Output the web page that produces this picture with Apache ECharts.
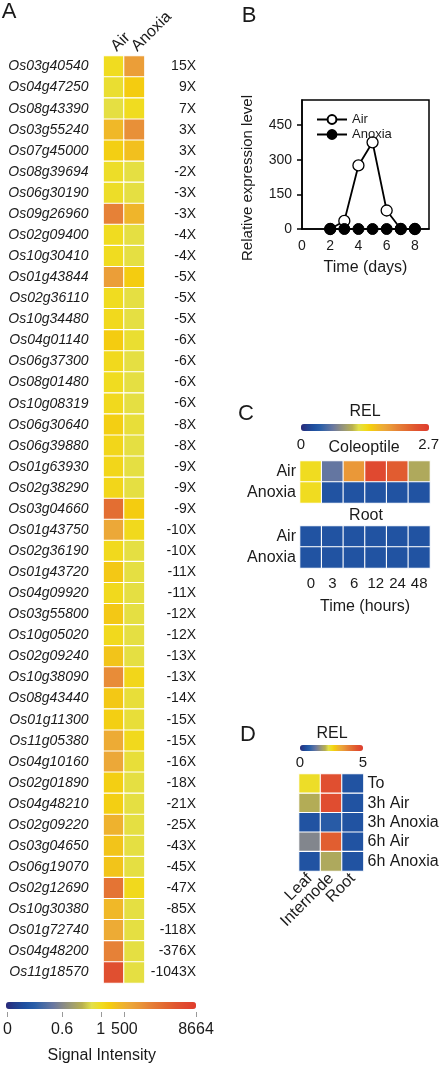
<!DOCTYPE html>
<html><head><meta charset="utf-8">
<script src="https://cdn.jsdelivr.net/npm/echarts@6/dist/echarts.min.js"></script>
<style>html,body{margin:0;padding:0;background:#fff}#c{width:442px;height:1066px}</style>
</head><body><div id="c"></div>
<script>
// ---------- Panel A ----------
const genes = ['Os03g40540','Os04g47250','Os08g43390','Os03g55240','Os07g45000','Os08g39694','Os06g30190','Os09g26960','Os02g09400','Os10g30410','Os01g43844','Os02g36110','Os10g34480','Os04g01140','Os06g37300','Os08g01480','Os10g08319','Os06g30640','Os06g39880','Os01g63930','Os02g38290','Os03g04660','Os01g43750','Os02g36190','Os01g43720','Os04g09920','Os03g55800','Os10g05020','Os02g09240','Os10g38090','Os08g43440','Os01g11300','Os11g05380','Os04g10160','Os02g01890','Os04g48210','Os02g09220','Os03g04650','Os06g19070','Os02g12690','Os10g30380','Os01g72740','Os04g48200','Os11g18570'];
const folds = ['15X','9X','7X','3X','3X','-2X','-3X','-3X','-4X','-4X','-5X','-5X','-5X','-6X','-6X','-6X','-6X','-8X','-8X','-9X','-9X','-9X','-10X','-10X','-11X','-11X','-12X','-12X','-13X','-13X','-14X','-15X','-15X','-16X','-18X','-21X','-25X','-43X','-45X','-47X','-85X','-118X','-376X','-1043X'];
// position on the Signal Intensity colour scale (0 = left end, 1 = right end)
const airLevel = [0.50,0.48,0.46,0.60,0.54,0.49,0.49,0.76,0.50,0.50,0.68,0.50,0.51,0.55,0.51,0.50,0.51,0.54,0.52,0.52,0.52,0.82,0.65,0.51,0.56,0.51,0.56,0.51,0.57,0.73,0.56,0.54,0.64,0.65,0.54,0.54,0.62,0.57,0.57,0.80,0.60,0.64,0.76,0.92];
const anoxiaLevel = [0.68,0.55,0.50,0.72,0.58,0.46,0.46,0.61,0.46,0.46,0.55,0.46,0.46,0.48,0.46,0.46,0.46,0.47,0.46,0.46,0.46,0.55,0.51,0.46,0.46,0.46,0.46,0.46,0.46,0.52,0.47,0.47,0.51,0.47,0.46,0.46,0.46,0.46,0.46,0.51,0.46,0.46,0.46,0.46];
const conditionsA = ['Air','Anoxia'];
const scaleATickPos = [0, 0.29, 0.495, 0.62, 1];
const scaleATickText = ['0','0.6','1','500','8664'];

// ---------- Panel B ----------
const days = [2,3,4,5,6,7,8];
const airExpr = [0,35,275,375,80,0,0];
const anoxiaExpr = [0,0,0,0,0,0,0];
const yTicksB = [0,150,300,450];
const xTicksB = [0,2,4,6,8];

// ---------- Panel C ----------
const hours = ['0','3','6','12','24','48'];
const condC = ['Air','Anoxia'];
const coleoptileAir = [1.35,0.65,1.89,2.55,2.36,1.03];
const coleoptileAnoxia = [1.35,0.30,0.30,0.30,0.30,0.30];
const rootAir = [0.30,0.30,0.30,0.30,0.30,0.30];
const rootAnoxia = [0.30,0.30,0.30,0.30,0.30,0.30];
const scaleCMax = 2.7;

// ---------- Panel D ----------
const tissues = ['Leaf','Internode','Root'];
const treatments = ['To','3h Air','3h Anoxia','6h Air','6h Anoxia'];
const leafREL = [2.45,1.95,0.55,1.45,0.55];
const internodeREL = [4.6,4.65,0.7,4.35,1.9];
const rootREL = [0.55,0.55,0.55,0.55,0.55];
const scaleDMax = 5;

const palette = ['#2a2a7a','#23408f','#1f50a0','#2a5ea8','#4a6ca4','#6a78a0','#888a88','#a09e70','#b8b050','#e2e04a','#f0dc20','#f4cc10','#f0b828','#eca838','#ea9838','#e68438','#e47434','#e26430','#e05430','#e04830','#e03c2c'];
const FONT = "'Liberation Sans', Arial, sans-serif";
const TXT = '#1a1a1a';

const dataA = [];
genes.forEach((g,i)=>{ dataA.push([0,i,airLevel[i]]); dataA.push([1,i,anoxiaLevel[i]]); });
const dataC1 = [], dataC2 = [];
hours.forEach((h,j)=>{
  dataC1.push([j,0,coleoptileAir[j]]); dataC1.push([j,1,coleoptileAnoxia[j]]);
  dataC2.push([j,0,rootAir[j]]); dataC2.push([j,1,rootAnoxia[j]]);
});
const dataD = [];
treatments.forEach((t,i)=>{
  dataD.push([0,i,leafREL[i]]); dataD.push([1,i,internodeREL[i]]); dataD.push([2,i,rootREL[i]]);
});

const cellStyle = {borderColor:'#fff', borderWidth:1.1};
function vm(seriesIndex, max, left, top, thick, len){
  return {type:'continuous', seriesIndex, min:0, max, orient:'horizontal', left, top,
    itemWidth:thick, itemHeight:len, calculable:false, hoverLink:false, padding:0,
    inRange:{color:palette}};
}
function hiddenY(g){ return {gridIndex:g, type:'value', show:false}; }

const chart = echarts.init(document.getElementById('c'), null, {renderer:'canvas'});
const txt = (s, x, y, size, rot) => ({type:'text', x, y, rotation:rot||0, style:{text:s, font:`${size}px ${FONT}`, fill:TXT, textAlign:'center', textVerticalAlign:'middle'}});

chart.setOption({
  backgroundColor:'#fff',
  animation:false,
  textStyle:{fontFamily:FONT, color:TXT},
  graphic:[
    txt('A',9,12,22), txt('B',249,16,22), txt('C',246,414,22), txt('D',248,735,22),
    txt('Relative expression level',248,178,15,Math.PI/2),
    txt('REL',365,412,16), txt('Coleoptile',364,448,16), txt('Root',366,516,16),
    txt('REL',332,734,16)
  ],
  legend:{left:311, top:108, orient:'vertical', itemGap:2, itemWidth:30, itemHeight:11,
    textStyle:{fontSize:13, color:TXT, fontFamily:FONT}, data:['Air','Anoxia']},
  visualMap:[
    vm(0, 1, 6, 1002, 7, 190),
    vm([3,4], scaleCMax, 301, 424, 7, 128),
    vm(5, scaleDMax, 300, 745, 6, 63)
  ],
  grid:[
    {left:103.5, top:56, width:41, height:927},
    {left:302, top:100, width:127, height:129, show:true, borderColor:'#000', borderWidth:1.5},
    {left:300, top:461, width:130, height:42},
    {left:300, top:526, width:130, height:42},
    {left:299, top:774, width:64.5, height:97},
    {left:6, top:1005, width:190, height:7},
    {left:301, top:424, width:128, height:7},
    {left:300, top:745, width:63, height:6}
  ],
  xAxis:[
    {gridIndex:0, type:'category', data:conditionsA, position:'top', axisLine:{show:false}, axisTick:{show:false},
      axisLabel:{interval:0, rotate:-45, fontSize:16, margin:7, color:TXT}},
    {gridIndex:1, type:'value', min:0, max:9, axisLine:{lineStyle:{color:'#000', width:1.5}}, axisTick:{show:false},
      splitLine:{show:false}, axisLabel:{customValues:xTicksB, fontSize:14, color:TXT, margin:10},
      name:'Time (days)', nameLocation:'middle', nameGap:31, nameTextStyle:{fontSize:16, color:TXT}},
    {gridIndex:2, type:'category', data:hours, show:false},
    {gridIndex:3, type:'category', data:hours, axisLine:{show:false}, axisTick:{show:false},
      axisLabel:{interval:0, fontSize:15, color:TXT, margin:8},
      name:'Time (hours)', nameLocation:'middle', nameGap:31, nameTextStyle:{fontSize:16, color:TXT}},
    {gridIndex:4, type:'category', data:tissues, axisLine:{show:false}, axisTick:{show:false},
      axisLabel:{interval:0, rotate:45, fontSize:16, color:TXT, margin:5}},
    {gridIndex:5, type:'value', min:0, max:1, axisLine:{show:false}, splitLine:{show:false},
      axisTick:{show:true, customValues:scaleATickPos, length:5, lineStyle:{color:'#999'}},
      axisLabel:{customValues:scaleATickPos, fontSize:16, color:TXT, margin:10,
        formatter:(v)=>{ const k = scaleATickPos.findIndex(p=>Math.abs(p-v)<1e-6); return k>=0?scaleATickText[k]:''; }},
      name:'Signal Intensity', nameLocation:'middle', nameGap:36, nameTextStyle:{fontSize:16, color:TXT}},
    {gridIndex:6, type:'value', min:0, max:scaleCMax, axisLine:{show:false}, splitLine:{show:false}, axisTick:{show:false},
      axisLabel:{customValues:[0, scaleCMax], fontSize:15, color:TXT, margin:6, alignMaxLabel:'left'}},
    {gridIndex:7, type:'value', min:0, max:scaleDMax, axisLine:{show:false}, splitLine:{show:false}, axisTick:{show:false},
      axisLabel:{customValues:[0, scaleDMax], fontSize:15, color:TXT, margin:4}}
  ],
  yAxis:[
    {gridIndex:0, type:'category', data:genes, inverse:true, axisLine:{show:false}, axisTick:{show:false},
      axisLabel:{interval:0, fontSize:14, fontStyle:'italic', color:TXT, margin:15}},
    {gridIndex:0, type:'category', data:folds, inverse:true, position:'right', axisLine:{show:false}, axisTick:{show:false},
      axisLabel:{interval:0, fontSize:14, color:TXT, align:'right', margin:51.5}},
    {gridIndex:1, type:'value', min:0, max:558, axisLine:{show:true, lineStyle:{color:'#000', width:1.5}},
      axisTick:{show:true, customValues:yTicksB, length:5, lineStyle:{color:'#000', width:1.5}}, splitLine:{show:false},
      axisLabel:{customValues:yTicksB, fontSize:14, color:TXT, margin:10}},
    {gridIndex:2, type:'category', data:condC, inverse:true, axisLine:{show:false}, axisTick:{show:false},
      axisLabel:{interval:0, fontSize:16, color:TXT, margin:4}},
    {gridIndex:3, type:'category', data:condC, inverse:true, axisLine:{show:false}, axisTick:{show:false},
      axisLabel:{interval:0, fontSize:16, color:TXT, margin:4}},
    {gridIndex:4, type:'category', data:treatments, inverse:true, position:'right', axisLine:{show:false}, axisTick:{show:false},
      axisLabel:{interval:0, fontSize:16, color:TXT, margin:4}},
    hiddenY(5), hiddenY(6), hiddenY(7)
  ],
  series:[
    {type:'heatmap', xAxisIndex:0, yAxisIndex:0, data:dataA, itemStyle:cellStyle, emphasis:{disabled:true}},
    {type:'line', name:'Air', xAxisIndex:1, yAxisIndex:2, data:days.map((d,i)=>[d,airExpr[i]]),
      symbol:'circle', symbolSize:11, lineStyle:{color:'#000', width:1.8},
      itemStyle:{color:'#fff', borderColor:'#000', borderWidth:1.3}},
    {type:'line', name:'Anoxia', xAxisIndex:1, yAxisIndex:2, data:days.map((d,i)=>[d,anoxiaExpr[i]]),
      symbol:'circle', symbolSize:11, lineStyle:{color:'#000', width:1.8},
      itemStyle:{color:'#000', borderColor:'#000', borderWidth:1}},
    {type:'heatmap', xAxisIndex:2, yAxisIndex:3, data:dataC1, itemStyle:cellStyle, emphasis:{disabled:true}},
    {type:'heatmap', xAxisIndex:3, yAxisIndex:4, data:dataC2, itemStyle:cellStyle, emphasis:{disabled:true}},
    {type:'heatmap', xAxisIndex:4, yAxisIndex:5, data:dataD, itemStyle:cellStyle, emphasis:{disabled:true}}
  ]
});
</script>
</body></html>
